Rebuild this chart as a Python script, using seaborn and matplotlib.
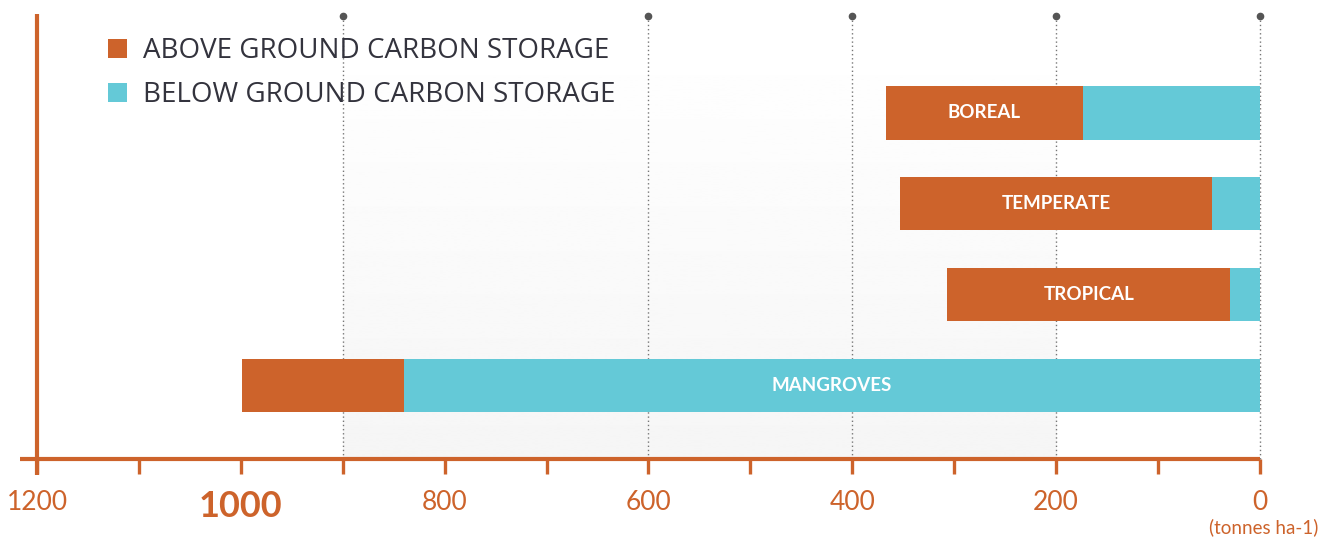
import numpy as np
import pandas as pd
import matplotlib
matplotlib.use("Agg")
import matplotlib.pyplot as plt
import seaborn as sns
from matplotlib.patches import Patch

# values (tonnes ha-1)
forests = ["BOREAL", "TEMPERATE", "TROPICAL", "MANGROVES"]
above_ground = [193, 306, 278, 159]
below_ground = [174, 47, 29, 840]
tick_values = list(range(0, 1300, 100))
tick_labels = ["0", "", "200", "", "400", "", "600", "", "800", "", "1000", "", "1200"]
grid_values = [900, 600, 400, 200, 0]
legend_labels = ["ABOVE GROUND CARBON STORAGE", "BELOW GROUND CARBON STORAGE"]

ORANGE = "#cd632b"
CYAN = "#64c9d7"
DARK = "#33333d"

df = pd.DataFrame({"forest": forests, "above": above_ground, "below": below_ground})
df["total"] = df["above"] + df["below"]

sns.set_theme(style="white")
plt.rcParams["font.family"] = ["Lato", "DejaVu Sans"]

fig = plt.figure(figsize=(13.35, 5.37), dpi=100)
W, H = 1335, 537
ax = fig.add_axes([37 / W, 78 / H, (1260 - 37) / W, (459 - 14) / H])

# stacked bars: total in orange, below-ground on top of it in cyan
sns.barplot(data=df, x="total", y="forest", color=ORANGE, width=0.585,
            saturation=1, orient="h", ax=ax, zorder=3, linewidth=0)
sns.barplot(data=df, x="below", y="forest", color=CYAN, width=0.585,
            saturation=1, orient="h", ax=ax, zorder=4, linewidth=0)

# soft gradient band behind the bars
grad = np.linspace(1.0, 0.962, 256).reshape(-1, 1)
ax.imshow(grad, cmap="gray", vmin=0, vmax=1, aspect="auto",
          extent=[900, 200, 3.81, -0.9], zorder=0)
ax.set_xlim(1200, 0)
ax.set_ylim(3.81, -1.09)

# dotted grid lines with dots at the top
for g in grid_values:
    ax.plot([g, g], [0, 0.995], transform=ax.get_xaxis_transform(),
            color="#777777", lw=1, ls=(0, (1, 2)), zorder=1, clip_on=False)
    ax.plot([g], [0.995], transform=ax.get_xaxis_transform(), marker="o",
            ms=4.5, color="#555555", zorder=2, clip_on=False)

# bar labels, centred on the larger segment
for i, row in df.iterrows():
    if row["above"] >= row["below"]:
        cx = row["below"] + row["above"] / 2
    else:
        cx = row["below"] / 2
    ax.text(cx, i, row["forest"], color="white", fontsize=13.5, fontweight="bold",
            ha="center", va="center", zorder=5)

# axes styling
for s in ["top", "right", "left", "bottom"]:
    ax.spines[s].set_visible(False)
ax.plot([1217, 0], [0, 0], transform=ax.get_xaxis_transform(), color=ORANGE,
        lw=3, solid_capstyle="butt", clip_on=False, zorder=6)
ax.plot([1200, 1200], [-0.036, 1.0], transform=ax.get_xaxis_transform(), color=ORANGE,
        lw=3, solid_capstyle="butt", clip_on=False, zorder=6)

ax.set_xticks(tick_values)
ax.set_xticklabels(tick_labels)
ax.tick_params(axis="x", direction="out", length=11, width=2.4, color=ORANGE,
               labelcolor=ORANGE, labelsize=19, pad=11, bottom=True)
ax.tick_params(axis="y", left=False, labelleft=False)
for lab in ax.get_xticklabels():
    if lab.get_text() == "1000":
        lab.set_fontsize(26)
        lab.set_fontweight("bold")
ax.set_xlabel("")
ax.set_ylabel("")
ax.grid(False)

fig.text(1318 / W, 1 - 527 / H, "(tonnes ha-1)", color=ORANGE, fontsize=13.5,
         ha="right", va="center")

handles = [Patch(facecolor=ORANGE, edgecolor="none"), Patch(facecolor=CYAN, edgecolor="none")]
leg = ax.legend(handles, legend_labels, loc="upper left",
                bbox_to_anchor=(83 / W, 1 - 12 / H), bbox_transform=fig.transFigure,
                frameon=False, prop={"family": ["Open Sans", "DejaVu Sans"], "size": 20},
                handlelength=0.7, handleheight=0.7, handletextpad=0.55, labelspacing=0.58)
for t in leg.get_texts():
    t.set_color(DARK)

fig.savefig("out.png", dpi=100)
